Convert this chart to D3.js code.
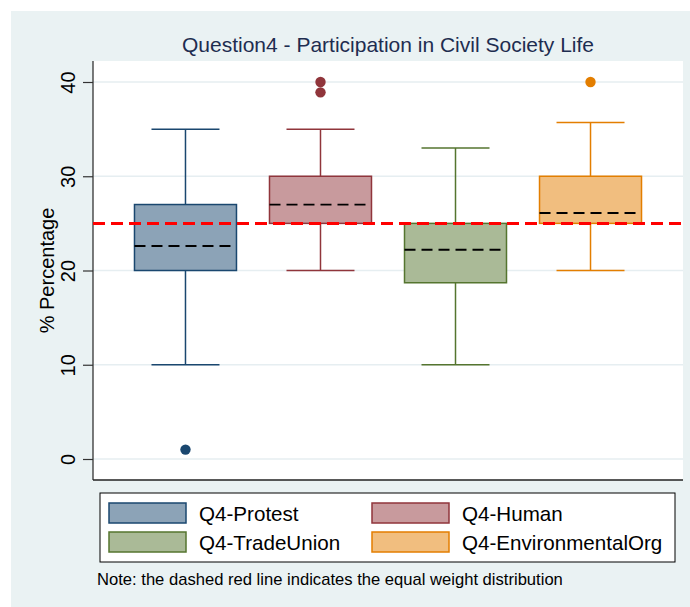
<!DOCTYPE html>
<html>
<head>
<meta charset="utf-8">
<script src="https://cdn.jsdelivr.net/npm/d3@7"></script>
<style>
	body { margin: 0; background: #fff; }
	svg text { font-family: Arial, 'Liberation Sans', sans-serif; }
</style>
</head>
<body>
<div id="chart"></div>
<script>
// box plot summaries
const categories = ['Q4-Protest', 'Q4-Human', 'Q4-TradeUnion', 'Q4-EnvironmentalOrg'];
const lowerWhisker = [10, 20, 10, 20];
const lowerQuartile = [20, 25, 18.7, 25];
const medians = [22.6, 27, 22.2, 26.1];
const upperQuartile = [27, 30, 25, 30];
const upperWhisker = [35, 35, 33, 35.7];
const outliers = [[1], [40, 38.9], [], [40]];
const yTicks = [0, 10, 20, 30, 40];
const equalWeight = 25;

const strokeColors = ['#1a476f', '#90353b', '#55752f', '#e37e00'];
const fillColors = ['#8ca3b7', '#c89a9d', '#aaba97', '#f1be7f'];

const width = 690;
const height = 607;
const plot = { left: 93, right: 683, top: 61, bottom: 480 };

const svg = d3.select('#chart').append('svg')
	.attr('width', width)
	.attr('height', height);

// graph region background
svg.append('rect')
	.attr('x', 11).attr('y', 11)
	.attr('width', width - 11).attr('height', height - 11)
	.attr('fill', '#eaf2f3');

svg.append('rect')
	.attr('x', plot.left).attr('y', plot.top)
	.attr('width', plot.right - plot.left).attr('height', plot.bottom - plot.top)
	.attr('fill', '#fff');

const x = d3.scalePoint()
	.domain(categories)
	.range([plot.left, plot.right])
	.padding(0.685);

const y = d3.scaleLinear()
	.domain([0, 40])
	.range([459, 82]);

const boxWidth = 102;
const capWidth = 68;

// gridlines
svg.append('g')
	.selectAll('line')
	.data(yTicks)
	.join('line')
	.attr('x1', plot.left)
	.attr('x2', plot.right)
	.attr('y1', d => y(d))
	.attr('y2', d => y(d))
	.attr('stroke', '#e6eef1')
	.attr('stroke-width', 1.5);

// y axis
const yAxis = svg.append('g')
	.attr('transform', `translate(${plot.left},0)`)
	.call(d3.axisLeft(y).tickValues(yTicks).tickSize(10));

yAxis.select('.domain').remove();
yAxis.selectAll('.tick line').attr('stroke', '#333').attr('stroke-width', 1.2);
yAxis.selectAll('.tick text')
	.attr('font-size', 20)
	.attr('fill', '#000')
	.attr('transform', 'rotate(-90, -18, 0)')
	.attr('x', -18)
	.attr('y', 0)
	.attr('dy', 0)
	.attr('text-anchor', 'middle');

svg.append('line')
	.attr('x1', plot.left).attr('x2', plot.left)
	.attr('y1', plot.top).attr('y2', plot.bottom)
	.attr('stroke', '#333').attr('stroke-width', 1.3);

svg.append('line')
	.attr('x1', plot.left).attr('x2', plot.right)
	.attr('y1', plot.bottom).attr('y2', plot.bottom)
	.attr('stroke', '#222').attr('stroke-width', 1.3);

// boxes
const groups = svg.append('g')
	.selectAll('g')
	.data(categories)
	.join('g');

groups.append('line')
	.attr('x1', d => x(d)).attr('x2', d => x(d))
	.attr('y1', (d, i) => y(upperWhisker[i]))
	.attr('y2', (d, i) => y(lowerWhisker[i]))
	.attr('stroke', (d, i) => strokeColors[i])
	.attr('stroke-width', 1.5);

groups.selectAll('.cap')
	.data((d, i) => [lowerWhisker[i], upperWhisker[i]].map(v => ({ cat: d, v, i })))
	.join('line')
	.attr('class', 'cap')
	.attr('x1', d => x(d.cat) - capWidth / 2)
	.attr('x2', d => x(d.cat) + capWidth / 2)
	.attr('y1', d => y(d.v))
	.attr('y2', d => y(d.v))
	.attr('stroke', d => strokeColors[d.i])
	.attr('stroke-width', 1.5);

groups.append('rect')
	.attr('x', d => x(d) - boxWidth / 2)
	.attr('width', boxWidth)
	.attr('y', (d, i) => y(upperQuartile[i]))
	.attr('height', (d, i) => y(lowerQuartile[i]) - y(upperQuartile[i]))
	.attr('fill', (d, i) => fillColors[i])
	.attr('stroke', (d, i) => strokeColors[i])
	.attr('stroke-width', 1.5);

groups.selectAll('.outlier')
	.data((d, i) => outliers[i].map(v => ({ cat: d, v, i })))
	.join('circle')
	.attr('class', 'outlier')
	.attr('cx', d => x(d.cat))
	.attr('cy', d => y(d.v))
	.attr('r', 5.2)
	.attr('fill', d => strokeColors[d.i]);

// equal weight reference line
svg.append('line')
	.attr('x1', plot.left).attr('x2', plot.right)
	.attr('y1', y(equalWeight)).attr('y2', y(equalWeight))
	.attr('stroke', '#ff0000')
	.attr('stroke-width', 3)
	.attr('stroke-dasharray', '12,6');

groups.append('line')
	.attr('x1', d => x(d) - boxWidth / 2)
	.attr('x2', d => x(d) + boxWidth / 2)
	.attr('y1', (d, i) => y(medians[i]))
	.attr('y2', (d, i) => y(medians[i]))
	.attr('stroke', '#000')
	.attr('stroke-width', 1.8)
	.attr('stroke-dasharray', '11,6');

// titles
svg.append('text')
	.attr('x', (plot.left + plot.right) / 2)
	.attr('y', 52)
	.attr('text-anchor', 'middle')
	.attr('font-size', 21)
	.attr('fill', '#1e2d50')
	.text('Question4 - Participation in Civil Society Life');

svg.append('text')
	.attr('transform', `translate(54,${(plot.top + plot.bottom) / 2}) rotate(-90)`)
	.attr('text-anchor', 'middle')
	.attr('font-size', 20)
	.attr('fill', '#000')
	.text('% Percentage');

// legend
const legend = svg.append('g');

legend.append('rect')
	.attr('x', 100).attr('y', 493)
	.attr('width', 575).attr('height', 69)
	.attr('fill', '#fff')
	.attr('stroke', '#000')
	.attr('stroke-width', 1);

const legendItems = legend.selectAll('g')
	.data(categories)
	.join('g')
	.attr('transform', (d, i) => `translate(${i % 2 ? 372 : 109},${i < 2 ? 503 : 532})`);

legendItems.append('rect')
	.attr('width', 77)
	.attr('height', 20)
	.attr('fill', (d, i) => fillColors[i])
	.attr('stroke', (d, i) => strokeColors[i])
	.attr('stroke-width', 1.5);

legendItems.append('text')
	.attr('x', 90)
	.attr('y', 18)
	.attr('font-size', 20.6)
	.attr('fill', '#000')
	.text(d => d);

svg.append('text')
	.attr('x', 97)
	.attr('y', 585)
	.attr('font-size', 16.6)
	.attr('fill', '#000')
	.text('Note: the dashed red line indicates the equal weight distribution');
</script>
</body>
</html>
